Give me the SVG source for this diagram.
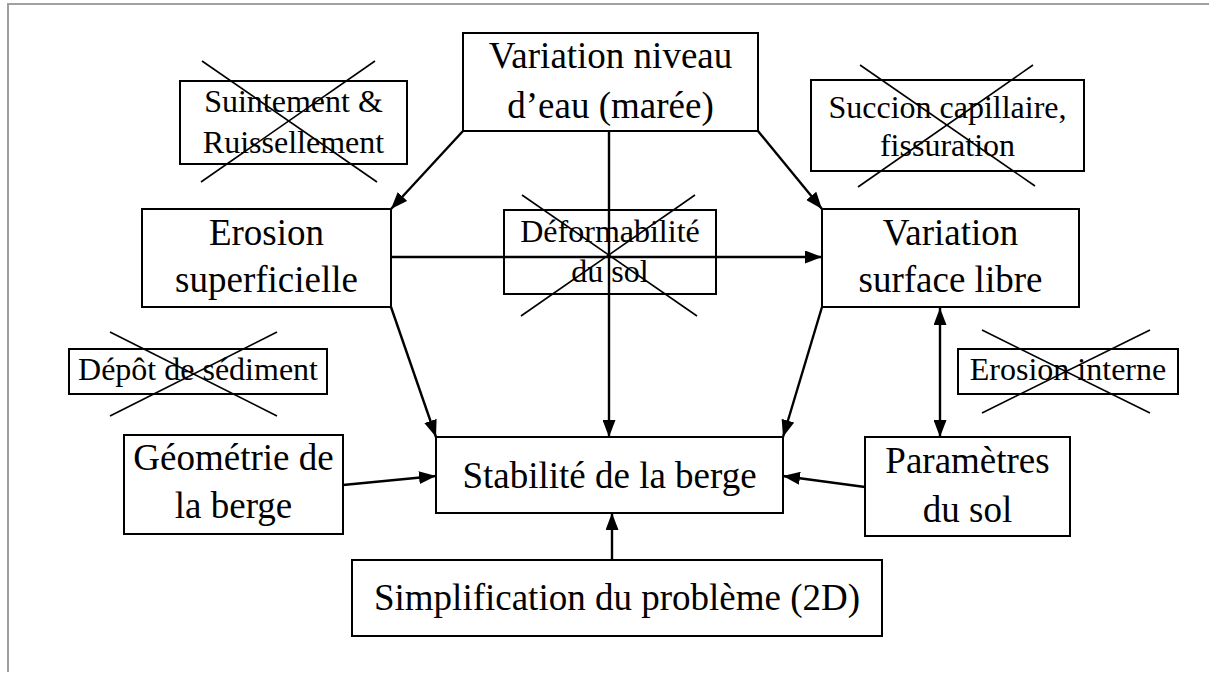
<svg xmlns="http://www.w3.org/2000/svg" width="1209" height="674" viewBox="0 0 1209 674">
<defs>
<marker id="ah" viewBox="0 0 17 13" refX="17" refY="6.5" markerWidth="17" markerHeight="13" markerUnits="userSpaceOnUse" orient="auto-start-reverse">
<path d="M0,0 L17,6.5 L0,13 Z" fill="#000"/>
</marker>
<style>
.box{fill:#fff;stroke:#000;stroke-width:2}
.cross{stroke:#000;stroke-width:1.6;fill:none}
.t{font-family:"Liberation Serif","Times New Roman",serif;fill:#000;text-anchor:middle}
.big{font-size:37px}
.sm{font-size:32px}
.c{stroke:#000;stroke-width:2.4;fill:none}
.frame{stroke:#a0a0a0;stroke-width:2;fill:none}
</style>
</defs>
<rect width="1209" height="674" fill="#fff"/>
<path class="frame" d="M8,672 L8,4 L1209,4"/>

<g id="suintement">
<rect class="box" x="180" y="81" width="227" height="83"/>
<text class="t sm" x="293.5" y="112">Suintement &amp;</text>
<text class="t sm" x="293.5" y="153">Ruissellement</text>
<line class="cross" x1="202" y1="61" x2="377" y2="182"/>
<line class="cross" x1="375" y1="61" x2="201" y2="182"/>
</g>

<g id="variation-niveau">
<rect class="box" x="463" y="33" width="295" height="98"/>
<text class="t big" x="610.5" y="68">Variation niveau</text>
<text class="t big" x="610.5" y="118">d’eau (marée)</text>
</g>

<g id="succion">
<rect class="box" x="811" y="80" width="273" height="91"/>
<text class="t sm" x="947.5" y="118">Succion capillaire,</text>
<text class="t sm" x="947.5" y="156">fissuration</text>
<line class="cross" x1="860" y1="65" x2="1035" y2="186"/>
<line class="cross" x1="1033" y1="65" x2="858" y2="187"/>
</g>

<g id="erosion-superficielle">
<rect class="box" x="142" y="209" width="249" height="98"/>
<text class="t big" x="266.5" y="245">Erosion</text>
<text class="t big" x="266.5" y="292">superficielle</text>
</g>

<g id="deformabilite">
<rect class="box" x="504" y="210" width="212" height="84"/>
<text class="t sm" x="610" y="242">Déformabilité</text>
<text class="t sm" x="610" y="282">du sol</text>
<line class="cross" x1="522" y1="195" x2="697" y2="316"/>
<line class="cross" x1="695" y1="195" x2="521" y2="316"/>
</g>

<g id="variation-surface">
<rect class="box" x="822" y="209" width="257" height="98"/>
<text class="t big" x="950.5" y="245">Variation</text>
<text class="t big" x="950.5" y="292">surface libre</text>
</g>

<g id="depot">
<rect class="box" x="69" y="349" width="258" height="45"/>
<text class="t sm" x="198" y="380">Dépôt de sédiment</text>
<line class="cross" x1="110" y1="332" x2="277" y2="416"/>
<line class="cross" x1="277" y1="332" x2="110" y2="416"/>
</g>

<g id="erosion-interne">
<rect class="box" x="958" y="349" width="220" height="45"/>
<text class="t sm" x="1068" y="380">Erosion interne</text>
<line class="cross" x1="982" y1="330" x2="1150" y2="413"/>
<line class="cross" x1="1150" y1="330" x2="982" y2="413"/>
</g>

<g id="geometrie">
<rect class="box" x="124" y="435" width="219" height="99"/>
<text class="t big" x="233.5" y="470">Géométrie de</text>
<text class="t big" x="233.5" y="518">la berge</text>
</g>

<g id="stabilite">
<rect class="box" x="436" y="437" width="347" height="76"/>
<text class="t big" x="609.5" y="488">Stabilité de la berge</text>
</g>

<g id="parametres">
<rect class="box" x="865" y="437" width="205" height="99"/>
<text class="t big" x="967.5" y="473">Paramètres</text>
<text class="t big" x="967.5" y="522">du sol</text>
</g>

<g id="simplification">
<rect class="box" x="352" y="560" width="530" height="76"/>
<text class="t big" x="617" y="610">Simplification du problème (2D)</text>
</g>

<g id="connectors">
<line class="c" x1="463" y1="131" x2="391" y2="209" marker-end="url(#ah)"/>
<line class="c" x1="758" y1="131" x2="822" y2="209" marker-end="url(#ah)"/>
<line class="c" x1="609" y1="131" x2="609" y2="437" marker-end="url(#ah)"/>
<line class="c" x1="391" y1="257" x2="822" y2="257" marker-end="url(#ah)"/>
<line class="c" x1="391" y1="307" x2="436" y2="437" marker-end="url(#ah)"/>
<line class="c" x1="822" y1="307" x2="783" y2="437" marker-end="url(#ah)"/>
<line class="c" x1="940" y1="308" x2="940" y2="437" marker-start="url(#ah)" marker-end="url(#ah)"/>
<line class="c" x1="343" y1="485" x2="436" y2="476" marker-end="url(#ah)"/>
<line class="c" x1="865" y1="487" x2="783" y2="476" marker-end="url(#ah)"/>
<line class="c" x1="612" y1="560" x2="612" y2="513" marker-end="url(#ah)"/>
</g>
</svg>
